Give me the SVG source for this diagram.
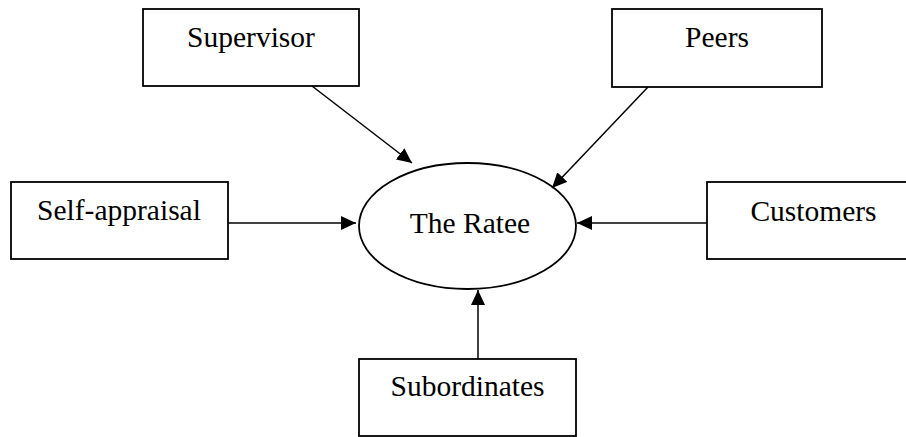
<svg xmlns="http://www.w3.org/2000/svg" width="906" height="437" viewBox="0 0 906 437">
<style>
.box{fill:#fff;stroke:#000;stroke-width:1.8}
.lbl{font-family:"Liberation Serif","Times New Roman",serif;font-size:29.5px;fill:#000;text-anchor:middle}
.edge{stroke:#000;stroke-width:1.5;fill:none;marker-end:url(#ah)}
</style>
<defs>
<marker id="ah" markerWidth="16" markerHeight="14" refX="15" refY="7" orient="auto" markerUnits="userSpaceOnUse">
<path d="M0,0 L15,7 L0,14 Z" fill="#000"/>
</marker>
</defs>
<rect width="906" height="437" fill="#fff"/>
<g id="connectors">
<line class="edge" x1="312" y1="86" x2="412" y2="163"/>
<line class="edge" x1="648" y1="87" x2="552" y2="188"/>
<line class="edge" x1="228" y1="223" x2="356" y2="223"/>
<line class="edge" x1="707" y1="223" x2="577" y2="223"/>
<line class="edge" x1="478" y1="359" x2="478" y2="290"/>
</g>
<g id="ratee">
<ellipse cx="467.5" cy="226" rx="108.5" ry="63" fill="none" stroke="#000" stroke-width="1.8"/>
<text class="lbl" x="470" y="233">The Ratee</text>
</g>
<g id="supervisor">
<rect class="box" x="143" y="9" width="216" height="77"/>
<text class="lbl" x="251" y="47">Supervisor</text>
</g>
<g id="peers">
<rect class="box" x="612" y="9" width="210" height="78"/>
<text class="lbl" x="717" y="47">Peers</text>
</g>
<g id="self-appraisal">
<rect class="box" x="11" y="182" width="217" height="77"/>
<text class="lbl" x="119" y="220">Self-appraisal</text>
</g>
<g id="customers">
<rect class="box" x="707" y="182" width="213" height="77"/>
<text class="lbl" x="813.5" y="221">Customers</text>
</g>
<g id="subordinates">
<rect class="box" x="359" y="359" width="217" height="77"/>
<text class="lbl" x="467.5" y="396">Subordinates</text>
</g>
</svg>
